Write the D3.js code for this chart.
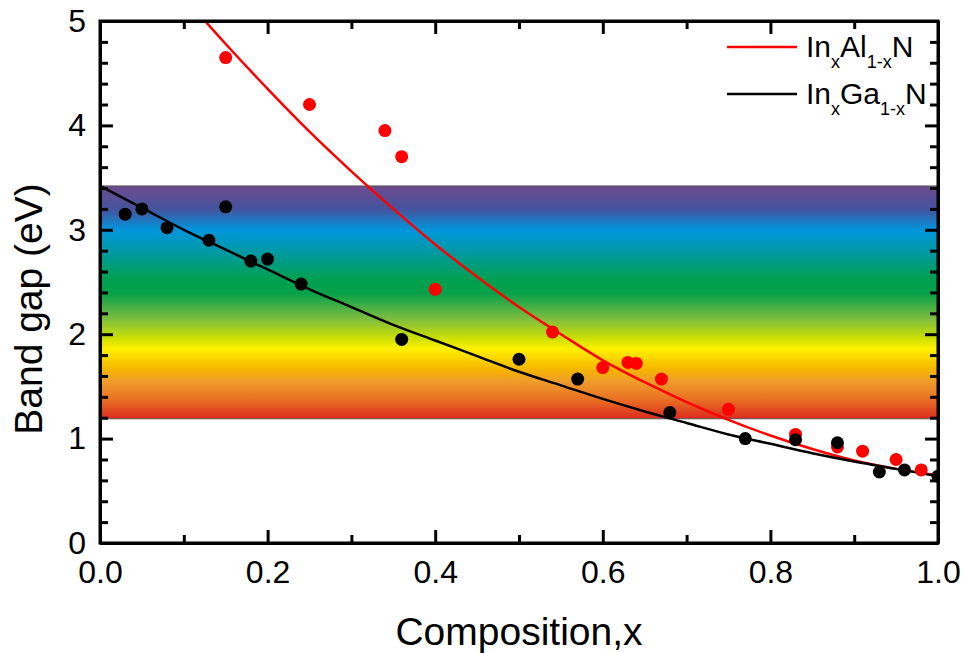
<!DOCTYPE html>
<html>
<head>
<meta charset="utf-8">
<script src="https://cdn.jsdelivr.net/npm/d3@7/dist/d3.min.js"></script>
<style>
  html, body { margin: 0; padding: 0; background: #fff; }
  svg { display: block; font-family: "Liberation Sans", Arial, sans-serif; }
</style>
</head>
<body>
<svg id="chart" width="968" height="653"></svg>
<script>
// Measured band gaps (eV) versus indium composition x
const inAlNx = [0.15, 0.25, 0.34, 0.36, 0.40, 0.54, 0.60, 0.63, 0.64, 0.67, 0.75, 0.83, 0.88, 0.91, 0.95, 0.98];
const inAlNy = [4.65, 4.20, 3.95, 3.70, 2.43, 2.02, 1.68, 1.73, 1.72, 1.57, 1.28, 1.04, 0.92, 0.88, 0.80, 0.70];

const inGaNx = [0.03, 0.05, 0.08, 0.13, 0.15, 0.18, 0.20, 0.24, 0.36, 0.50, 0.57, 0.68, 0.77, 0.83, 0.88, 0.93, 0.96, 1.00];
const inGaNy = [3.15, 3.20, 3.02, 2.90, 3.22, 2.70, 2.72, 2.48, 1.95, 1.76, 1.57, 1.25, 1.00, 0.99, 0.96, 0.68, 0.70, 0.64];

// Fitted bowing curves, sampled along x
const fitAlNx = [0.10, 0.15, 0.20, 0.25, 0.30, 0.35, 0.40, 0.45, 0.50, 0.55, 0.60, 0.65, 0.70, 0.75, 0.80, 0.85, 0.90, 0.95, 1.00];
const fitAlNy = [5.23, 4.78, 4.35, 3.94, 3.56, 3.20, 2.86, 2.55, 2.26, 2.00, 1.75, 1.54, 1.35, 1.18, 1.03, 0.90, 0.79, 0.71, 0.65];

const fitGaNx = [0.00, 0.05, 0.10, 0.15, 0.20, 0.25, 0.30, 0.35, 0.40, 0.45, 0.50, 0.55, 0.60, 0.65, 0.70, 0.75, 0.80, 0.85, 0.90, 0.95, 1.00];
const fitGaNy = [3.42, 3.21, 3.00, 2.81, 2.62, 2.43, 2.26, 2.09, 1.94, 1.79, 1.64, 1.51, 1.38, 1.26, 1.15, 1.04, 0.95, 0.86, 0.78, 0.71, 0.64];

// Visible spectrum band (eV)
const bandRange = [1.19, 3.42];

// Axis ticks
const xMajor = [0, 0.2, 0.4, 0.6, 0.8, 1.0];
const xMinor = [0.1, 0.3, 0.5, 0.7, 0.9];
const yMajor = [0, 1, 2, 3, 4, 5];
const yMinor = [0.2, 0.4, 0.6, 0.8, 1.2, 1.4, 1.6, 1.8, 2.2, 2.4, 2.6, 2.8, 3.2, 3.4, 3.6, 3.8, 4.2, 4.4, 4.6, 4.8];

const pLeft = 100, pRight = 938, pTop = 21, pBottom = 543;

const svg = d3.select("#chart");
const x = d3.scaleLinear().domain([0, 1]).range([pLeft, pRight]);
const y = d3.scaleLinear().domain([0, 5]).range([pBottom, pTop]);

const defs = svg.append("defs");
defs.append("clipPath").attr("id", "plotClip")
  .append("rect").attr("x", pLeft).attr("y", pTop)
  .attr("width", pRight - pLeft).attr("height", pBottom - pTop);

const grad = defs.append("linearGradient").attr("id", "spectrum")
  .attr("x1", 0).attr("y1", 0).attr("x2", 0).attr("y2", 1);
[
  [0.00, "#6e4a8e"], [0.10, "#44549e"], [0.19, "#0096dc"], [0.28, "#0099a6"],
  [0.40, "#00a050"], [0.46, "#06a14a"], [0.57, "#7cbd40"], [0.66, "#d2e200"],
  [0.70, "#fff000"], [0.79, "#f6b400"], [0.84, "#ef9d2c"], [0.92, "#e86e22"],
  [1.00, "#dc2a20"]
].forEach(([o, c]) => grad.append("stop").attr("offset", o).attr("stop-color", c));

const plot = svg.append("g").attr("clip-path", "url(#plotClip)");

plot.append("rect")
  .attr("x", pLeft).attr("width", pRight - pLeft)
  .attr("y", y(bandRange[1])).attr("height", y(bandRange[0]) - y(bandRange[1]))
  .attr("fill", "url(#spectrum)")
  .attr("stroke", "#555").attr("stroke-width", 1);

const line = d3.line().x(d => x(d[0])).y(d => y(d[1])).curve(d3.curveMonotoneX);

plot.append("path").datum(d3.zip(fitAlNx, fitAlNy))
  .attr("d", line).attr("fill", "none").attr("stroke", "#ff0000").attr("stroke-width", 2.5);
plot.append("path").datum(d3.zip(fitGaNx, fitGaNy))
  .attr("d", line).attr("fill", "none").attr("stroke", "#000").attr("stroke-width", 2.5);

plot.selectAll("circle.aln").data(d3.zip(inAlNx, inAlNy)).join("circle")
  .attr("class", "aln").attr("cx", d => x(d[0])).attr("cy", d => y(d[1]))
  .attr("r", 6.5).attr("fill", "#ff0000");
plot.selectAll("circle.gan").data(d3.zip(inGaNx, inGaNy)).join("circle")
  .attr("class", "gan").attr("cx", d => x(d[0])).attr("cy", d => y(d[1]))
  .attr("r", 6.5).attr("fill", "#000");

// Axes: ticks point inward on all four sides
function styleAxis(g, showDomain) {
  g.selectAll(".tick line").attr("stroke", "#000").attr("stroke-width", 3);
  g.select(".domain").attr("stroke", showDomain ? "#000" : "none").attr("stroke-width", 3);
  g.selectAll("text").attr("fill", "#000").attr("font-size", 32)
    .attr("font-family", "'Liberation Sans', Arial, sans-serif");
}

const fmtX = d3.format(".1f");
const gx = svg.append("g").attr("transform", `translate(0,${pBottom})`)
  .call(d3.axisBottom(x).tickValues(xMajor).tickFormat(fmtX).tickSize(-13).tickSizeOuter(0).tickPadding(17));
styleAxis(gx, true);
svg.append("g").attr("transform", `translate(0,${pBottom})`)
  .call(d3.axisBottom(x).tickValues(xMinor).tickFormat("").tickSize(-8).tickSizeOuter(0))
  .call(g => styleAxis(g, false));

const gtop = svg.append("g").attr("transform", `translate(0,${pTop})`)
  .call(d3.axisTop(x).tickValues(xMajor).tickFormat("").tickSize(-13).tickSizeOuter(0));
styleAxis(gtop, true);
svg.append("g").attr("transform", `translate(0,${pTop})`)
  .call(d3.axisTop(x).tickValues(xMinor).tickFormat("").tickSize(-8).tickSizeOuter(0))
  .call(g => styleAxis(g, false));

const gy = svg.append("g").attr("transform", `translate(${pLeft},0)`)
  .call(d3.axisLeft(y).tickValues(yMajor).tickFormat(d3.format("d")).tickSize(-13).tickSizeOuter(0).tickPadding(14));
styleAxis(gy, true);
svg.append("g").attr("transform", `translate(${pLeft},0)`)
  .call(d3.axisLeft(y).tickValues(yMinor).tickFormat("").tickSize(-8).tickSizeOuter(0))
  .call(g => styleAxis(g, false));

const gr = svg.append("g").attr("transform", `translate(${pRight},0)`)
  .call(d3.axisRight(y).tickValues(yMajor).tickFormat("").tickSize(-13).tickSizeOuter(0));
styleAxis(gr, true);
svg.append("g").attr("transform", `translate(${pRight},0)`)
  .call(d3.axisRight(y).tickValues(yMinor).tickFormat("").tickSize(-8).tickSizeOuter(0))
  .call(g => styleAxis(g, false));

// Frame
svg.append("rect").attr("x", pLeft).attr("y", pTop)
  .attr("width", pRight - pLeft).attr("height", pBottom - pTop)
  .attr("fill", "none").attr("stroke", "#000").attr("stroke-width", 3);

// Axis titles
svg.append("text").attr("x", (pLeft + pRight) / 2).attr("y", 645)
  .attr("text-anchor", "middle").attr("font-size", 39).attr("fill", "#000")
  .text("Composition,x");
svg.append("text").attr("transform", "translate(42,309) rotate(-90)")
  .attr("text-anchor", "middle").attr("font-size", 39).attr("fill", "#000")
  .text("Band gap (eV)");

// Legend
const legendItems = [
  { color: "#ff0000", parts: [["In", false], ["x", true], ["Al", false], ["1-x", true], ["N", false]] },
  { color: "#000000", parts: [["In", false], ["x", true], ["Ga", false], ["1-x", true], ["N", false]] }
];
legendItems.forEach((item, i) => {
  const ly = 47 + i * 47;
  svg.append("line").attr("x1", 727).attr("x2", 797).attr("y1", ly).attr("y2", ly)
    .attr("stroke", item.color).attr("stroke-width", 2.5);
  const t = svg.append("text").attr("x", 806).attr("y", ly + 10)
    .attr("font-size", 30).attr("fill", "#000");
  let shifted = false;
  item.parts.forEach(([s, sub]) => {
    const ts = t.append("tspan").text(s);
    if (sub) {
      ts.attr("font-size", 18);
      if (!shifted) { ts.attr("dy", 11); shifted = true; }
    } else if (shifted) {
      ts.attr("dy", -11); shifted = false;
    }
  });
});
</script>
</body>
</html>
